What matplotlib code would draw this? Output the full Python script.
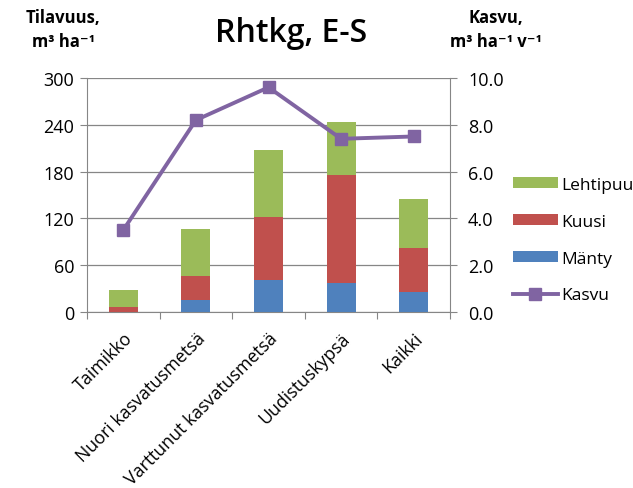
import matplotlib.pyplot as plt
import numpy as np

plt.rcParams['font.family'] = ['Open Sans', 'DejaVu Sans']

luokat = ["Taimikko", "Nuori kasvatusmetsä", "Varttunut kasvatusmetsä",
          "Uudistuskypsä", "Kaikki"]
manty = [0, 15, 41, 37, 25]
kuusi = [7, 31, 81, 138, 57]
lehtipuu = [21, 61, 86, 68, 63]
kasvu = [3.5, 8.2, 9.6, 7.4, 7.5]

sininen = "#4F81BD"
punainen = "#C0504D"
vihrea = "#9BBB59"
violetti = "#8064A2"
harmaa = "#868686"

fig = plt.figure(figsize=(6.33, 4.89), dpi=100)
ax = fig.add_axes([0.1374, 0.36, 0.5736, 0.4785])
x = np.arange(len(luokat))

b1 = ax.bar(x, manty, 0.4, color=sininen, zorder=3, label="Mänty")
b2 = ax.bar(x, kuusi, 0.4, bottom=manty, color=punainen, zorder=3, label="Kuusi")
pohja = np.array(manty) + np.array(kuusi)
b3 = ax.bar(x, lehtipuu, 0.4, bottom=pohja, color=vihrea, zorder=3, label="Lehtipuu")

ax.set_xlim(-0.5, len(luokat) - 0.5)
ax.set_ylim(0, 300)
ax.set_yticks(range(0, 301, 60))
ax.grid(axis="y", color=harmaa, linewidth=0.9, zorder=0)
# luokkien rajat isoina tikkeinä, nimet pieninä tikkeinä keskellä
ax.set_xticks(np.arange(-0.5, len(luokat), 1))
ax.set_xticklabels([])
ax.set_xticks(x, minor=True)
ax.set_xticklabels(luokat, minor=True, rotation=45, ha="right", va="top",
                   rotation_mode="anchor", fontsize=12.8)
ax.tick_params(axis="x", which="minor", length=0, pad=12)
ax.tick_params(axis="x", which="major", length=5, color=harmaa, direction="out")
ax.tick_params(axis="y", length=5, color=harmaa, labelsize=13, pad=4)
for s in ["top", "right"]:
    ax.spines[s].set_visible(False)
for s in ["left", "bottom"]:
    ax.spines[s].set_color(harmaa)

ax2 = ax.twinx()
l1, = ax2.plot(x, kasvu, color=violetti, linewidth=2.8, marker="s", markersize=8,
               zorder=4, label="Kasvu")
ax2.set_ylim(0, 10)
ax2.set_yticks(np.arange(0, 10.1, 2))
ax2.set_yticklabels([f"{v:.1f}" for v in np.arange(0, 10.1, 2)])
ax2.tick_params(axis="y", length=5, color=harmaa, labelsize=13, pad=8)
ax2.spines["top"].set_visible(False)
ax2.spines["left"].set_visible(False)
ax2.spines["bottom"].set_visible(False)
ax2.spines["right"].set_color(harmaa)

fig.legend([b3, b2, b1, l1], ["Lehtipuu", "Kuusi", "Mänty", "Kasvu"],
           loc="upper left", bbox_to_anchor=(0.785, 0.668), frameon=False,
           fontsize=12.5, handlelength=2.6, handleheight=0.6,
           labelspacing=1.2, handletextpad=0.2)

fig.text(0.46, 0.914, "Rhtkg, E-S", fontsize=23, fontweight="semibold",
         ha="center", va="baseline")
fig.text(0.0995, 0.963, "Tilavuus,", fontsize=12, fontweight="bold",
         ha="center", va="center")
fig.text(0.0995, 0.914, "m³ ha⁻¹", fontsize=12, fontweight="bold",
         ha="center", va="center")
fig.text(0.784, 0.963, "Kasvu,", fontsize=12, fontweight="bold",
         ha="center", va="center")
fig.text(0.784, 0.914, "m³ ha⁻¹ v⁻¹", fontsize=12, fontweight="bold",
         ha="center", va="center")

fig.savefig("out.png", dpi=100)
